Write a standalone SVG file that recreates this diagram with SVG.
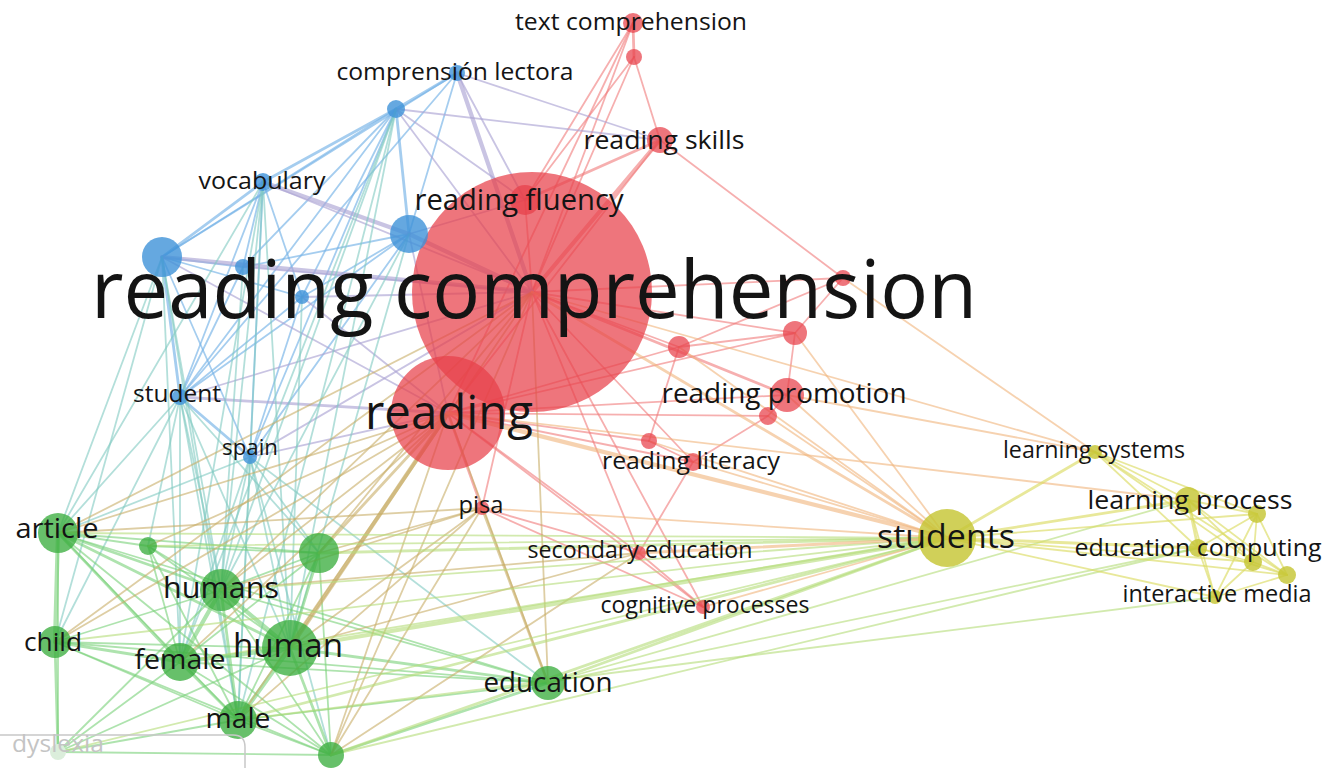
<svg xmlns="http://www.w3.org/2000/svg" width="1340" height="768" viewBox="0 0 1340 768">
<style>
.e{fill:none;stroke-linecap:round;stroke-width:1.8}
.r{stroke:#f07a7a;opacity:.6}
.b{stroke:#74b2e6;opacity:.65}
.p{stroke:#aca4d4;opacity:.65}
.t{stroke:#80cac2;opacity:.6}
.g{stroke:#78d078;opacity:.6}
.o{stroke:#c8ae68;opacity:.6}
.gy{stroke:#b4dc78;opacity:.6}
.ry{stroke:#f0b47c;opacity:.6}
.y{stroke:#dcdc64;opacity:.65}
.w2{stroke-width:2.8}
.w3{stroke-width:4.2}
.nr{fill:#e8404a;fill-opacity:.72}
.nb{fill:#3f92d8;fill-opacity:.8}
.ng{fill:#3cae40;fill-opacity:.78}
.ny{fill:#c6c634;fill-opacity:.82}
text{font-family:"Open Sans","Liberation Sans",sans-serif;fill:#141414;text-anchor:middle}
</style>
<rect width="1340" height="768" fill="#fff"/>
<g id="connectors">
<path class="e r w2" d="M633 23L634 57"/>
<path class="e r" d="M633 23L532 292"/>
<path class="e r" d="M633 23L525 200"/>
<path class="e r" d="M633 23L448 413"/>
<path class="e r" d="M634 57L532 292"/>
<path class="e r" d="M634 57L525 200"/>
<path class="e r" d="M634 57L660 140"/>
<path class="e r w3" d="M660 140L532 292"/>
<path class="e r w2" d="M660 140L525 200"/>
<path class="e r" d="M660 140L843 278"/>
<path class="e r" d="M660 140L448 413"/>
<path class="e r" d="M843 278L532 292"/>
<path class="e r" d="M843 278L795 333"/>
<path class="e r" d="M843 278L679 347"/>
<path class="e r" d="M795 333L532 292"/>
<path class="e r" d="M795 333L679 347"/>
<path class="e r" d="M795 333L787 395"/>
<path class="e r" d="M795 333L448 413"/>
<path class="e r" d="M679 347L532 292"/>
<path class="e r" d="M679 347L649 441"/>
<path class="e r" d="M679 347L448 413"/>
<path class="e r w2" d="M787 395L532 292"/>
<path class="e r" d="M787 395L768 416"/>
<path class="e r" d="M787 395L448 413"/>
<path class="e r" d="M768 416L693 462"/>
<path class="e r" d="M768 416L448 413"/>
<path class="e r" d="M649 441L693 462"/>
<path class="e r" d="M649 441L448 413"/>
<path class="e r" d="M693 462L532 292"/>
<path class="e r" d="M693 462L448 413"/>
<path class="e r" d="M693 462L639 553"/>
<path class="e r w2" d="M482 508L448 413"/>
<path class="e r" d="M482 508L532 292"/>
<path class="e r" d="M482 508L639 553"/>
<path class="e r" d="M639 553L532 292"/>
<path class="e r" d="M639 553L448 413"/>
<path class="e r" d="M639 553L703 607"/>
<path class="e r" d="M703 607L532 292"/>
<path class="e r" d="M703 607L448 413"/>
<path class="e r" d="M703 607L482 508"/>
<path class="e r" d="M525 200L532 292"/>
<path class="e b w2" d="M457 73L396 109"/>
<path class="e b" d="M457 73L409 234"/>
<path class="e b" d="M457 73L180 397"/>
<path class="e b" d="M457 73L162 257"/>
<path class="e b w2" d="M396 109L263 182"/>
<path class="e b" d="M396 109L162 257"/>
<path class="e b w2" d="M396 109L409 234"/>
<path class="e b" d="M396 109L243 267"/>
<path class="e b" d="M396 109L302 297"/>
<path class="e b" d="M396 109L180 397"/>
<path class="e b" d="M396 109L250 457"/>
<path class="e b w2" d="M263 182L162 257"/>
<path class="e b" d="M263 182L243 267"/>
<path class="e b" d="M263 182L302 297"/>
<path class="e b" d="M263 182L180 397"/>
<path class="e b" d="M263 182L250 457"/>
<path class="e b" d="M162 257L243 267"/>
<path class="e b" d="M162 257L302 297"/>
<path class="e b w2" d="M162 257L180 397"/>
<path class="e b" d="M162 257L250 457"/>
<path class="e b" d="M409 234L302 297"/>
<path class="e b" d="M409 234L180 397"/>
<path class="e b" d="M409 234L250 457"/>
<path class="e b" d="M409 234L243 267"/>
<path class="e b w2" d="M180 397L250 457"/>
<path class="e b" d="M243 267L180 397"/>
<path class="e b" d="M302 297L180 397"/>
<path class="e b" d="M302 297L250 457"/>
<path class="e p w3" d="M457 73L532 292"/>
<path class="e p" d="M457 73L660 140"/>
<path class="e p" d="M396 109L660 140"/>
<path class="e p" d="M396 109L532 292"/>
<path class="e p" d="M396 109L525 200"/>
<path class="e p w3" d="M263 182L409 234"/>
<path class="e p" d="M263 182L532 292"/>
<path class="e p w3" d="M162 257L532 292"/>
<path class="e p" d="M162 257L448 413"/>
<path class="e p w3" d="M409 234L532 292"/>
<path class="e p" d="M409 234L525 200"/>
<path class="e p" d="M409 234L448 413"/>
<path class="e p" d="M180 397L532 292"/>
<path class="e p w2" d="M180 397L448 413"/>
<path class="e p" d="M250 457L448 413"/>
<path class="e p" d="M250 457L532 292"/>
<path class="e p" d="M243 267L532 292"/>
<path class="e p" d="M302 297L532 292"/>
<path class="e p" d="M302 297L448 413"/>
<path class="e p" d="M457 73L525 200"/>
<path class="e t" d="M180 397L58 533"/>
<path class="e t" d="M180 397L148 546"/>
<path class="e t" d="M180 397L221 590"/>
<path class="e t" d="M180 397L290 648"/>
<path class="e t" d="M180 397L180 662"/>
<path class="e t" d="M180 397L55 642"/>
<path class="e t" d="M180 397L238 720"/>
<path class="e t" d="M180 397L319 553"/>
<path class="e t" d="M250 457L221 590"/>
<path class="e t" d="M250 457L290 648"/>
<path class="e t" d="M250 457L180 662"/>
<path class="e t" d="M250 457L238 720"/>
<path class="e t" d="M250 457L331 755"/>
<path class="e t" d="M250 457L58 533"/>
<path class="e t" d="M250 457L319 553"/>
<path class="e t" d="M250 457L548 683"/>
<path class="e t" d="M162 257L58 533"/>
<path class="e t" d="M162 257L55 642"/>
<path class="e t" d="M162 257L221 590"/>
<path class="e t" d="M162 257L180 662"/>
<path class="e t" d="M162 257L238 720"/>
<path class="e t" d="M263 182L58 533"/>
<path class="e t" d="M263 182L221 590"/>
<path class="e t" d="M263 182L290 648"/>
<path class="e t" d="M263 182L180 662"/>
<path class="e t" d="M263 182L238 720"/>
<path class="e t" d="M396 109L221 590"/>
<path class="e t" d="M396 109L290 648"/>
<path class="e t" d="M396 109L238 720"/>
<path class="e t" d="M396 109L180 662"/>
<path class="e t" d="M409 234L290 648"/>
<path class="e t" d="M409 234L221 590"/>
<path class="e t" d="M243 267L221 590"/>
<path class="e t" d="M302 297L290 648"/>
<path class="e g" d="M58 533L148 546"/>
<path class="e g" d="M58 533L319 553"/>
<path class="e g w2" d="M58 533L221 590"/>
<path class="e g w3" d="M58 533L55 642"/>
<path class="e g w2" d="M58 533L290 648"/>
<path class="e g w2" d="M58 533L180 662"/>
<path class="e g" d="M58 533L548 683"/>
<path class="e g" d="M58 533L238 720"/>
<path class="e g" d="M58 533L331 755"/>
<path class="e g" d="M58 533L58 752"/>
<path class="e g" d="M148 546L221 590"/>
<path class="e g" d="M148 546L290 648"/>
<path class="e g" d="M148 546L180 662"/>
<path class="e g" d="M148 546L238 720"/>
<path class="e g" d="M148 546L319 553"/>
<path class="e g" d="M319 553L221 590"/>
<path class="e g w2" d="M319 553L290 648"/>
<path class="e g" d="M319 553L180 662"/>
<path class="e g" d="M319 553L238 720"/>
<path class="e g" d="M319 553L331 755"/>
<path class="e g" d="M221 590L55 642"/>
<path class="e g w3" d="M221 590L290 648"/>
<path class="e g w3" d="M221 590L180 662"/>
<path class="e g w2" d="M221 590L238 720"/>
<path class="e g" d="M221 590L331 755"/>
<path class="e g" d="M221 590L548 683"/>
<path class="e g" d="M55 642L290 648"/>
<path class="e g w2" d="M55 642L180 662"/>
<path class="e g" d="M55 642L238 720"/>
<path class="e g" d="M55 642L331 755"/>
<path class="e g w2" d="M55 642L58 752"/>
<path class="e g" d="M55 642L548 683"/>
<path class="e g w3" d="M290 648L180 662"/>
<path class="e g w3" d="M290 648L238 720"/>
<path class="e g w2" d="M290 648L331 755"/>
<path class="e g w2" d="M290 648L548 683"/>
<path class="e g w2" d="M180 662L238 720"/>
<path class="e g" d="M180 662L331 755"/>
<path class="e g" d="M180 662L548 683"/>
<path class="e g" d="M238 720L331 755"/>
<path class="e g" d="M238 720L548 683"/>
<path class="e g w2" d="M331 755L548 683"/>
<path class="e g" d="M58 752L290 648"/>
<path class="e g" d="M58 752L221 590"/>
<path class="e g" d="M58 752L180 662"/>
<path class="e g" d="M58 752L238 720"/>
<path class="e g" d="M58 752L331 755"/>
<path class="e o w3" d="M290 648L448 413"/>
<path class="e o w2" d="M319 553L448 413"/>
<path class="e o" d="M221 590L448 413"/>
<path class="e o" d="M58 533L448 413"/>
<path class="e o" d="M238 720L448 413"/>
<path class="e o" d="M180 662L448 413"/>
<path class="e o" d="M331 755L448 413"/>
<path class="e o" d="M55 642L448 413"/>
<path class="e o" d="M148 546L448 413"/>
<path class="e o" d="M58 533L532 292"/>
<path class="e o" d="M221 590L532 292"/>
<path class="e o" d="M290 648L532 292"/>
<path class="e o" d="M319 553L532 292"/>
<path class="e o" d="M548 683L448 413"/>
<path class="e o w2" d="M548 683L482 508"/>
<path class="e o" d="M548 683L532 292"/>
<path class="e o" d="M319 553L482 508"/>
<path class="e o" d="M290 648L482 508"/>
<path class="e o" d="M221 590L482 508"/>
<path class="e o" d="M238 720L482 508"/>
<path class="e o" d="M290 648L639 553"/>
<path class="e o" d="M221 590L639 553"/>
<path class="e o" d="M331 755L639 553"/>
<path class="e o" d="M331 755L482 508"/>
<path class="e o" d="M58 533L482 508"/>
<path class="e o" d="M331 755L532 292"/>
<path class="e o" d="M55 642L532 292"/>
<path class="e gy" d="M947 538L58 533"/>
<path class="e gy" d="M947 538L148 546"/>
<path class="e gy w2" d="M947 538L319 553"/>
<path class="e gy" d="M947 538L221 590"/>
<path class="e gy" d="M947 538L55 642"/>
<path class="e gy w3" d="M947 538L290 648"/>
<path class="e gy" d="M947 538L180 662"/>
<path class="e gy w2" d="M947 538L548 683"/>
<path class="e gy w2" d="M947 538L238 720"/>
<path class="e gy w2" d="M947 538L331 755"/>
<path class="e gy" d="M548 683L1188 500"/>
<path class="e gy" d="M548 683L1198 548"/>
<path class="e gy" d="M331 755L1198 548"/>
<path class="e gy" d="M238 720L1215 597"/>
<path class="e gy" d="M58 752L947 538"/>
<path class="e ry w3" d="M947 538L448 413"/>
<path class="e ry w2" d="M947 538L532 292"/>
<path class="e ry" d="M947 538L787 395"/>
<path class="e ry" d="M947 538L693 462"/>
<path class="e ry w2" d="M947 538L639 553"/>
<path class="e ry" d="M947 538L482 508"/>
<path class="e ry" d="M947 538L703 607"/>
<path class="e ry" d="M947 538L679 347"/>
<path class="e ry" d="M947 538L795 333"/>
<path class="e ry" d="M947 538L768 416"/>
<path class="e ry" d="M947 538L649 441"/>
<path class="e ry" d="M1095 452L843 278"/>
<path class="e ry" d="M1095 452L532 292"/>
<path class="e ry" d="M1188 500L448 413"/>
<path class="e ry" d="M1095 452L787 395"/>
<path class="e y w2" d="M947 538L1095 452"/>
<path class="e y w2" d="M947 538L1188 500"/>
<path class="e y" d="M947 538L1257 514"/>
<path class="e y w2" d="M947 538L1198 548"/>
<path class="e y" d="M947 538L1253 562"/>
<path class="e y" d="M947 538L1287 575"/>
<path class="e y" d="M947 538L1215 597"/>
<path class="e y" d="M1095 452L1188 500"/>
<path class="e y" d="M1095 452L1257 514"/>
<path class="e y" d="M1095 452L1198 548"/>
<path class="e y" d="M1095 452L1253 562"/>
<path class="e y" d="M1095 452L1287 575"/>
<path class="e y" d="M1188 500L1257 514"/>
<path class="e y w2" d="M1188 500L1198 548"/>
<path class="e y" d="M1188 500L1253 562"/>
<path class="e y" d="M1188 500L1287 575"/>
<path class="e y" d="M1188 500L1215 597"/>
<path class="e y" d="M1257 514L1198 548"/>
<path class="e y" d="M1257 514L1253 562"/>
<path class="e y" d="M1257 514L1287 575"/>
<path class="e y" d="M1257 514L1215 597"/>
<path class="e y" d="M1198 548L1253 562"/>
<path class="e y" d="M1198 548L1287 575"/>
<path class="e y" d="M1198 548L1215 597"/>
<path class="e y" d="M1253 562L1287 575"/>
<path class="e y" d="M1253 562L1215 597"/>
<path class="e y" d="M1287 575L1215 597"/>
</g>
<g id="nodes">
<g id="n-reading-comprehension"><circle class="nr" cx="532" cy="292" r="120" fill-opacity=".66"/></g>
<g id="n-reading"><circle class="nr" cx="448" cy="413" r="57"/></g>
<g id="n-reading-fluency"><circle class="nr" cx="525" cy="200" r="15"/></g>
<g id="n-text-comprehension"><circle class="nr" cx="633" cy="23" r="10"/></g>
<g id="n-r4"><circle class="nr" cx="634" cy="57" r="8"/></g>
<g id="n-reading-skills"><circle class="nr" cx="660" cy="140" r="13"/></g>
<g id="n-r6"><circle class="nr" cx="843" cy="278" r="8"/></g>
<g id="n-r7"><circle class="nr" cx="795" cy="333" r="12"/></g>
<g id="n-r8"><circle class="nr" cx="679" cy="347" r="11"/></g>
<g id="n-reading-promotion"><circle class="nr" cx="787" cy="395" r="17"/></g>
<g id="n-r10"><circle class="nr" cx="768" cy="416" r="9"/></g>
<g id="n-r11"><circle class="nr" cx="649" cy="441" r="8"/></g>
<g id="n-reading-literacy"><circle class="nr" cx="693" cy="462" r="9"/></g>
<g id="n-pisa"><circle class="nr" cx="482" cy="508" r="7"/></g>
<g id="n-secondary-education"><circle class="nr" cx="639" cy="553" r="7"/></g>
<g id="n-cognitive-processes"><circle class="nr" cx="703" cy="607" r="7"/></g>
<g id="n-comprension-lectora"><circle class="nb" cx="457" cy="73" r="8"/></g>
<g id="n-b1"><circle class="nb" cx="396" cy="109" r="9"/></g>
<g id="n-vocabulary"><circle class="nb" cx="263" cy="182" r="9"/></g>
<g id="n-b3"><circle class="nb" cx="162" cy="257" r="20"/></g>
<g id="n-b4"><circle class="nb" cx="409" cy="234" r="19"/></g>
<g id="n-b5"><circle class="nb" cx="243" cy="267" r="8"/></g>
<g id="n-b6"><circle class="nb" cx="302" cy="297" r="7"/></g>
<g id="n-student"><circle class="nb" cx="180" cy="397" r="8"/></g>
<g id="n-spain"><circle class="nb" cx="250" cy="457" r="7"/></g>
<g id="n-article"><circle class="ng" cx="58" cy="533" r="20"/></g>
<g id="n-g1"><circle class="ng" cx="148" cy="546" r="9"/></g>
<g id="n-g2"><circle class="ng" cx="319" cy="553" r="20"/></g>
<g id="n-humans"><circle class="ng" cx="221" cy="590" r="21"/></g>
<g id="n-child"><circle class="ng" cx="55" cy="642" r="16"/></g>
<g id="n-human"><circle class="ng" cx="290" cy="648" r="28"/></g>
<g id="n-female"><circle class="ng" cx="180" cy="662" r="19"/></g>
<g id="n-education"><circle class="ng" cx="548" cy="683" r="17"/></g>
<g id="n-male"><circle class="ng" cx="238" cy="720" r="19"/></g>
<g id="n-g9"><circle class="ng" cx="331" cy="755" r="13"/></g>
<g id="n-dyslexia"><circle cx="58" cy="752" r="8" fill="#dbeedb"/></g>
<g id="n-students"><circle class="ny" cx="947" cy="538" r="29"/></g>
<g id="n-learning-systems"><circle class="ny" cx="1095" cy="452" r="7"/></g>
<g id="n-learning-process"><circle class="ny" cx="1188" cy="500" r="13"/></g>
<g id="n-y3"><circle class="ny" cx="1257" cy="514" r="9"/></g>
<g id="n-education-computing"><circle class="ny" cx="1198" cy="548" r="9"/></g>
<g id="n-y5"><circle class="ny" cx="1253" cy="562" r="9"/></g>
<g id="n-y6"><circle class="ny" cx="1287" cy="575" r="9"/></g>
<g id="n-interactive-media"><circle class="ny" cx="1215" cy="597" r="7"/></g>
</g>
<path d="M0 735H233Q245 735 245 747V768" fill="none" stroke="#c8c8c8" stroke-width="1.5"/>
<g id="labels">
<text x="534" y="318" font-size="80" textLength="886" lengthAdjust="spacingAndGlyphs">reading comprehension</text>
<text x="449" y="429" font-size="47" textLength="168" lengthAdjust="spacingAndGlyphs">reading</text>
<text x="519" y="210" font-size="29" textLength="209" lengthAdjust="spacingAndGlyphs">reading fluency</text>
<text x="631" y="30" font-size="24" textLength="232" lengthAdjust="spacingAndGlyphs">text comprehension</text>
<text x="455" y="80" font-size="24" textLength="237" lengthAdjust="spacingAndGlyphs">comprensión lectora</text>
<text x="664" y="149" font-size="26" textLength="161" lengthAdjust="spacingAndGlyphs">reading skills</text>
<text x="262" y="189" font-size="24" textLength="127" lengthAdjust="spacingAndGlyphs">vocabulary</text>
<text x="784" y="403" font-size="27" textLength="245" lengthAdjust="spacingAndGlyphs">reading promotion</text>
<text x="691" y="469" font-size="24" textLength="178" lengthAdjust="spacingAndGlyphs">reading literacy</text>
<text x="481" y="513" font-size="23" textLength="45" lengthAdjust="spacingAndGlyphs">pisa</text>
<text x="640" y="558" font-size="23" textLength="225" lengthAdjust="spacingAndGlyphs">secondary education</text>
<text x="705" y="613" font-size="23" textLength="209" lengthAdjust="spacingAndGlyphs">cognitive processes</text>
<text x="946" y="548" font-size="33" textLength="138" lengthAdjust="spacingAndGlyphs">students</text>
<text x="1094" y="458" font-size="23" textLength="182" lengthAdjust="spacingAndGlyphs">learning systems</text>
<text x="1190" y="509" font-size="26" textLength="205" lengthAdjust="spacingAndGlyphs">learning process</text>
<text x="1198" y="556" font-size="24" textLength="247" lengthAdjust="spacingAndGlyphs">education computing</text>
<text x="1217" y="602" font-size="23" textLength="189" lengthAdjust="spacingAndGlyphs">interactive media</text>
<text x="177" y="402" font-size="24" textLength="88" lengthAdjust="spacingAndGlyphs">student</text>
<text x="250" y="455" font-size="22" textLength="56" lengthAdjust="spacingAndGlyphs">spain</text>
<text x="57" y="538" font-size="28" textLength="83" lengthAdjust="spacingAndGlyphs">article</text>
<text x="221" y="598" font-size="30" textLength="116" lengthAdjust="spacingAndGlyphs">humans</text>
<text x="53" y="651" font-size="26" textLength="58" lengthAdjust="spacingAndGlyphs">child</text>
<text x="180" y="669" font-size="28" textLength="91" lengthAdjust="spacingAndGlyphs">female</text>
<text x="288" y="657" font-size="33" textLength="110" lengthAdjust="spacingAndGlyphs">human</text>
<text x="548" y="692" font-size="27" textLength="129" lengthAdjust="spacingAndGlyphs">education</text>
<text x="238" y="728" font-size="28" textLength="65" lengthAdjust="spacingAndGlyphs">male</text>
<text x="58" y="752" font-size="24" textLength="92" lengthAdjust="spacingAndGlyphs" style="fill:#c4c4c4">dyslexia</text>
</g>
</svg>
